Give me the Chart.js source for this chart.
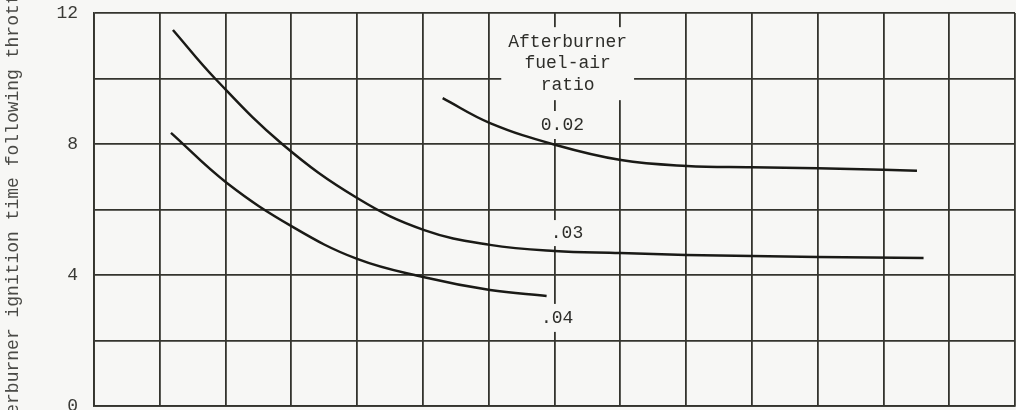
<!DOCTYPE html>
<html>
<head>
<meta charset="utf-8">
<script src="https://cdn.jsdelivr.net/npm/chart.js@4/dist/chart.umd.min.js"></script>
<style>
  html, body { margin: 0; padding: 0; background: #f7f7f5; overflow: hidden; }
  #wrap { position: relative; width: 1016px; height: 410px; }
</style>
</head>
<body>
<div id="wrap"><canvas id="grafico"></canvas></div>
<script>
// curve for fuel-air ratio 0.02
const x002 = [5.30, 6.02, 7.02, 8.01, 9.01, 10.0, 11.0, 12.0, 12.51];
const y002 = [9.40, 8.64, 7.97, 7.51, 7.33, 7.29, 7.26, 7.21, 7.18];

// curve for .03
const x003 = [1.20, 1.84, 2.86, 4.0, 5.02, 6.02, 7.0, 8.0, 9.0, 10.0, 11.0, 12.61];
const y003 = [11.48, 10.0, 8.0, 6.35, 5.37, 4.92, 4.73, 4.67, 4.61, 4.58, 4.55, 4.52];

// curve for .04
const x004 = [1.17, 2.02, 3.02, 4.0, 5.02, 6.02, 6.88];
const y004 = [8.34, 6.81, 5.47, 4.49, 3.93, 3.54, 3.36];

// axis
const yTickLabels = [0, 4, 8, 12];
const yTitle = 'Afterburner ignition time following throttle';

// curve labels (text + where it sits, in chart units)
const rotulos = [
  { linhas: ['Afterburner', 'fuel-air', 'ratio'], x: 7.2, y: 11.11, padX: 7, padY: 6 },
  { linhas: ['0.02'], x: 7.12, y: 8.58, padX: 6, padY: 5 },
  { linhas: ['.03'], x: 7.19, y: 5.28, padX: 4, padY: 4 },
  { linhas: ['.04'], x: 7.04, y: 2.69, padX: 4, padY: 5 }
];

const fundo = '#f7f7f5';
const corGrade = '#34342e';
const corTinta = '#1a1a16';
const fonte = '"Liberation Mono", "DejaVu Sans Mono", monospace';
const alturaLinha = 21.5;

function pontos(xs, ys) {
  return xs.map((x, i) => ({ x: x, y: ys[i] }));
}

function serie(label, xs, ys) {
  return {
    label: label,
    data: pontos(xs, ys),
    borderColor: corTinta,
    borderWidth: 2.5,
    pointRadius: 0,
    fill: false,
    tension: 0.4
  };
}

// paper-white boxes behind the labels, then the labels themselves
const pluginRotulos = {
  id: 'rotulos',
  beforeDatasetsDraw(chart) {
    const ctx = chart.ctx;
    const sx = chart.scales.x, sy = chart.scales.y;
    ctx.save();
    ctx.font = '18px ' + fonte;
    ctx.fillStyle = fundo;
    rotulos.forEach(r => {
      const cx = sx.getPixelForValue(r.x);
      const cy = sy.getPixelForValue(r.y);
      const largura = Math.max(...r.linhas.map(l => ctx.measureText(l).width));
      const altura = (r.linhas.length - 1) * alturaLinha + 18;
      ctx.fillRect(cx - largura / 2 - r.padX, cy - 9 - r.padY, largura + 2 * r.padX, altura + 2 * r.padY);
    });
    ctx.restore();
  },
  afterDatasetsDraw(chart) {
    const ctx = chart.ctx;
    const sx = chart.scales.x, sy = chart.scales.y;
    ctx.save();
    ctx.font = '18px ' + fonte;
    ctx.fillStyle = '#2e2e2a';
    ctx.textAlign = 'center';
    ctx.textBaseline = 'middle';
    rotulos.forEach(r => {
      const cx = sx.getPixelForValue(r.x);
      const cy = sy.getPixelForValue(r.y);
      r.linhas.forEach((l, i) => ctx.fillText(l, cx, cy + i * alturaLinha));
    });
    ctx.restore();
  }
};

const ctx = document.getElementById('grafico').getContext('2d');

new Chart(ctx, {
  type: 'line',
  data: {
    datasets: [
      serie('0.02', x002, y002),
      serie('.03', x003, y003),
      serie('.04', x004, y004)
    ]
  },
  options: {
    responsive: true,
    maintainAspectRatio: false,
    devicePixelRatio: 1,
    animation: false,
    layout: { padding: { top: 13, right: 1, bottom: 4, left: 0 } },
    plugins: {
      legend: { display: false },
      tooltip: { enabled: false }
    },
    scales: {
      x: {
        type: 'linear',
        min: 0,
        max: 14,
        ticks: { display: false, stepSize: 1 },
        grid: { color: corGrade, lineWidth: 1.8, drawTicks: false },
        border: { color: corGrade, width: 1.8 },
        afterFit(scale) {
          scale.height = 0;
          scale.paddingLeft = 0;
          scale.paddingRight = 0;
        }
      },
      y: {
        min: 0,
        max: 12,
        ticks: {
          stepSize: 2,
          padding: 16,
          color: '#3a3a36',
          font: { family: fonte, size: 18 },
          callback: v => yTickLabels.includes(v) ? String(v) : ''
        },
        grid: { color: corGrade, lineWidth: 1.8, drawTicks: false },
        border: { color: corGrade, width: 1.8 },
        title: {
          display: true,
          text: yTitle,
          color: '#4a4a46',
          font: { family: fonte, size: 18 },
          padding: { top: 2, bottom: 0 }
        },
        afterFit(scale) {
          scale.width = 94;
          scale.paddingTop = 0;
          scale.paddingBottom = 0;
        }
      }
    }
  },
  plugins: [pluginRotulos]
});
</script>
</body>
</html>
